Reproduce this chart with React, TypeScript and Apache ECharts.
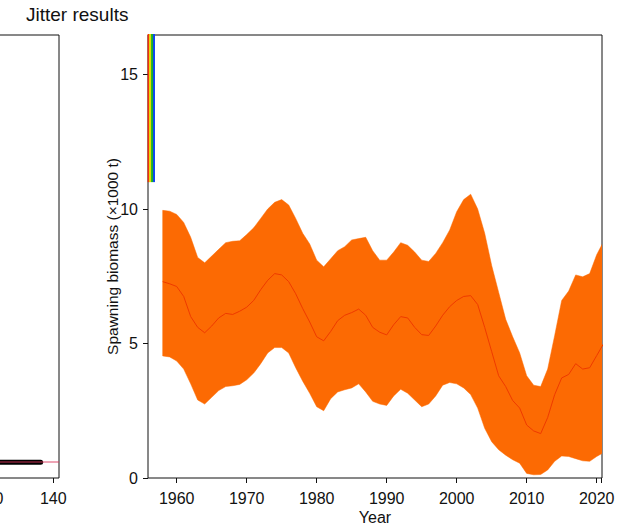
import React, { useEffect, useRef } from "react";
import * as echarts from "echarts";

// Spawning biomass trajectory (thousand tonnes): median with the 95% interval
const years = [
  1958, 1959, 1960, 1961, 1962, 1963, 1964, 1965, 1966, 1967,
  1968, 1969, 1970, 1971, 1972, 1973, 1974, 1975, 1976, 1977,
  1978, 1979, 1980, 1981, 1982, 1983, 1984, 1985, 1986, 1987,
  1988, 1989, 1990, 1991, 1992, 1993, 1994, 1995, 1996, 1997,
  1998, 1999, 2000, 2001, 2002, 2003, 2004, 2005, 2006, 2007,
  2008, 2009, 2010, 2011, 2012, 2013, 2014, 2015, 2016, 2017,
  2018, 2019, 2020, 2021,
];
const sbLower = [
  4.54, 4.5, 4.35, 4.05, 3.5, 2.9, 2.75, 3.0, 3.25, 3.4,
  3.43, 3.48, 3.65, 3.9, 4.25, 4.65, 4.85, 4.85, 4.65, 4.1,
  3.6, 3.15, 2.65, 2.5, 2.95, 3.2, 3.28, 3.35, 3.5, 3.2,
  2.85, 2.75, 2.7, 3.05, 3.3, 3.15, 2.9, 2.65, 2.75, 3.05,
  3.45, 3.55, 3.5, 3.35, 3.1, 2.6, 1.85, 1.35, 1.05, 0.85,
  0.68, 0.55, 0.17, 0.12, 0.13, 0.3, 0.62, 0.82, 0.8, 0.72,
  0.64, 0.62, 0.8, 0.95,
];
const sbMedian = [
  7.3, 7.22, 7.12, 6.75, 6.0, 5.6, 5.4, 5.65, 5.95, 6.12,
  6.08, 6.2, 6.35, 6.6, 7.0, 7.35, 7.6, 7.55, 7.3, 6.85,
  6.3, 5.8, 5.25, 5.1, 5.45, 5.85, 6.05, 6.15, 6.28, 6.05,
  5.6, 5.42, 5.32, 5.7, 6.0, 5.95, 5.6, 5.33, 5.3, 5.65,
  6.05, 6.37, 6.6, 6.75, 6.78, 6.45, 5.6, 4.7, 3.8, 3.4,
  2.88, 2.6, 1.97, 1.75, 1.65, 2.25, 3.1, 3.72, 3.85, 4.25,
  4.05, 4.1, 4.55, 5.0,
];
const sbUpper = [
  9.95, 9.92, 9.8, 9.5, 8.95, 8.2, 8.0, 8.25, 8.5, 8.75,
  8.8, 8.82, 9.05, 9.3, 9.65, 10.0, 10.25, 10.35, 10.15, 9.65,
  9.1, 8.7, 8.1, 7.85, 8.15, 8.45, 8.6, 8.85, 8.9, 8.95,
  8.45, 8.1, 8.1, 8.4, 8.75, 8.65, 8.4, 8.1, 8.05, 8.35,
  8.75, 9.22, 9.9, 10.35, 10.55, 10.0, 9.1, 7.9, 6.9, 5.9,
  5.25, 4.65, 3.8, 3.45, 3.4, 4.05, 5.3, 6.6, 6.95, 7.55,
  7.48, 7.6, 8.3, 8.8,
];

// Unfished biomass of the individual jitter runs
const virginRunYears = [1955.98, 1956.2, 1956.48, 1956.76];
const virginLow = [11.0, 11.0, 11.0, 11.0];
const virginHigh = [18, 18, 18, 18];
const virginRunColors = ["#F03010", "#E2E000", "#20B020", "#1048F0"];

// Total likelihood by jitter run, with the base-case value
const jitterRuns = [1, 136];
const jitterLikelihood = [612.5, 612.5];
const baseLikelihood = 612.5;
const runTicks = [120, 140];

// Axis ticks
const yearTicks = [1960, 1970, 1980, 1990, 2000, 2010, 2020];
const yearTickMarks = [1960, 1970, 1980, 1990, 2000, 2010, 2020, 2020.6];
const biomassTicks = [0, 5, 10, 15];

const FONT = "Arial, 'Liberation Sans', Helvetica, sans-serif";
const INK = "#111";
const BAND = "#FC6A03";
const MEDIAN = "#EE3A00";
const FS = 16;

export default function App() {
  const ref = useRef<HTMLDivElement>(null);

  useEffect(() => {
    if (!ref.current) return;
    const chart = echarts.init(ref.current, undefined, { renderer: "svg" });

    const tickStyle = { show: true, inside: false, length: 5, lineStyle: { color: INK, width: 1 } };
    const plain = (v: number) => String(v);
    const labelStyle = { color: INK, fontFamily: FONT, fontSize: FS, formatter: plain };

    const bandData = years.map((y, i) => [y, sbLower[i], sbUpper[i]]);
    const median = years.map((y, i) => [y, sbMedian[i]]);

    const virginSeries = virginRunYears.map((yr, i) => ({
      type: "line",
      xAxisIndex: 1,
      yAxisIndex: 1,
      data: [
        [yr, virginLow[i]],
        [yr, virginHigh[i]],
      ],
      symbol: "none",
      lineStyle: { color: virginRunColors[i], width: 2 },
      z: 4,
      silent: true,
    }));

    chart.setOption({
      animation: false,
      backgroundColor: "#ffffff",
      title: {
        text: "Jitter results",
        left: 26,
        top: 5,
        padding: 0,
        textStyle: { color: INK, fontFamily: FONT, fontSize: 19, fontWeight: "normal" },
      },
      grid: [
        {
          left: -200,
          right: 564,
          top: 35,
          bottom: 49,
          show: true,
          borderColor: INK,
          borderWidth: 1,
          backgroundColor: "transparent",
          containLabel: false,
          outerBoundsMode: "none",
        },
        {
          left: 148,
          right: 21,
          top: 35,
          bottom: 49,
          show: true,
          borderColor: INK,
          borderWidth: 1,
          backgroundColor: "transparent",
          containLabel: false,
          outerBoundsMode: "none",
        },
      ],
      xAxis: [
        {
          type: "value",
          gridIndex: 0,
          min: 60,
          max: 141.8,
          axisLine: { show: false },
          axisTick: { ...tickStyle, customValues: runTicks },
          axisLabel: { ...labelStyle, margin: 12, customValues: runTicks },
          splitLine: { show: false },
        },
        {
          type: "value",
          gridIndex: 1,
          min: 1955.9,
          max: 2020.76,
          name: "Year",
          nameLocation: "middle",
          nameGap: 31,
          nameMoveOverlap: false,
          nameTextStyle: { color: INK, fontFamily: FONT, fontSize: FS },
          axisLine: { show: false },
          axisTick: { ...tickStyle, customValues: yearTickMarks },
          axisLabel: { ...labelStyle, margin: 12, customValues: yearTicks },
          splitLine: { show: false },
        },
      ],
      yAxis: [
        {
          type: "value",
          gridIndex: 0,
          min: 610,
          max: 680,
          show: false,
          splitLine: { show: false },
        },
        {
          type: "value",
          gridIndex: 1,
          min: 0,
          max: 16.47,
          name: "Spawning biomass (\u00d71000 t)",
          nameLocation: "middle",
          nameGap: 28,
          nameMoveOverlap: false,
          nameTextStyle: { color: INK, fontFamily: FONT, fontSize: 15.5 },
          axisLine: { show: false },
          axisTick: { ...tickStyle, customValues: biomassTicks },
          axisLabel: { ...labelStyle, margin: 10, customValues: biomassTicks },
          splitLine: { show: false },
        },
      ],
      series: [
        {
          name: "Likelihood",
          type: "line",
          xAxisIndex: 0,
          yAxisIndex: 0,
          data: jitterRuns.map((r, i) => [r, jitterLikelihood[i]]),
          symbol: "none",
          lineStyle: { color: "#000", width: 5, cap: "round" },
          z: 2,
          markLine: {
            silent: true,
            symbol: "none",
            label: { show: false },
            lineStyle: { color: "rgba(217,52,90,0.6)", width: 1.5, type: "solid" },
            data: [{ yAxis: baseLikelihood }],
          },
        },
        {
          name: "Interval",
          type: "custom",
          xAxisIndex: 1,
          yAxisIndex: 1,
          data: bandData,
          encode: { x: 0, y: [1, 2] },
          clip: true,
          silent: true,
          z: 2,
          renderItem: (params: any, api: any) => {
            if (params.dataIndex !== 0) return null;
            const pts: number[][] = [];
            for (let i = 0; i < years.length; i++) pts.push(api.coord([years[i], sbUpper[i]]));
            for (let i = years.length - 1; i >= 0; i--) pts.push(api.coord([years[i], sbLower[i]]));
            return {
              type: "polygon",
              shape: { points: pts },
              style: { fill: BAND, stroke: BAND, lineWidth: 0.5 },
            };
          },
        },
        {
          name: "Median",
          type: "line",
          xAxisIndex: 1,
          yAxisIndex: 1,
          data: median,
          symbol: "none",
          lineStyle: { color: MEDIAN, width: 1 },
          z: 3,
        },
        ...virginSeries,
      ],
    });

    return () => chart.dispose();
  }, []);

  return (
    <div
      ref={ref}
      style={{ position: "fixed", left: 0, top: 0, width: 623, height: 527, background: "#fff" }}
    />
  );
}
